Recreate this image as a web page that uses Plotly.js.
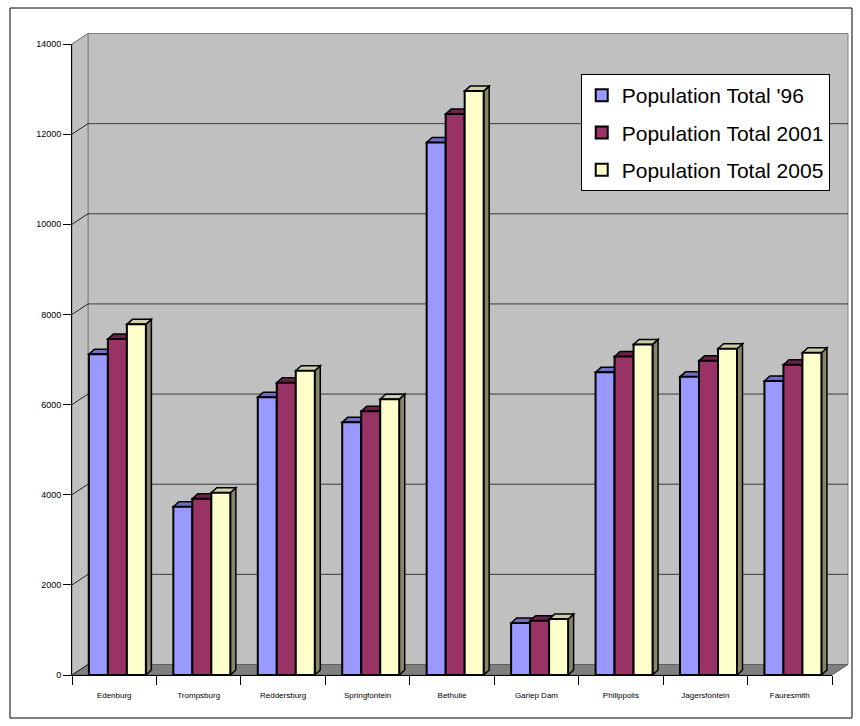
<!DOCTYPE html>
<html>
<head>
<meta charset="utf-8">
<script src="https://cdn.plot.ly/plotly-3.0.1.min.js"></script>
<style>
  html, body { margin: 0; padding: 0; background: #fff; }
  #chart { width: 860px; height: 726px; }
</style>
</head>
<body>
<div id="chart"></div>
<script>
// Town populations, three census points
const towns = ['Edenburg', 'Trompsburg', 'Reddersburg', 'Springfontein', 'Bethulie',
               'Gariep Dam', 'Philippolis', 'Jagersfontein', 'Fauresmith'];
const pop1996 = [7115, 3735, 6165, 5605, 11815, 1155, 6715, 6615, 6525];
const pop2001 = [7455, 3910, 6485, 5850, 12445, 1205, 7065, 6970, 6885];
const pop2005 = [7780, 4045, 6750, 6120, 12955, 1240, 7335, 7240, 7150];
const seriesNames = ["Population Total '96", 'Population Total 2001', 'Population Total 2005'];
const yTicks = [0, 2000, 4000, 6000, 8000, 10000, 12000, 14000];
const yTickText = ['0', '2000', '4000', '6000', '8000', '10000', '12000', '14000'];

// Styling
const frontColors = ['#9999ff', '#993366', '#ffffcc'];
const topColors   = ['#6e6ec8', '#6e2248', '#cfcfa6'];
const sideColors  = ['#5a5aa0', '#5a1a3a', '#86866a'];
const FONT = 'Liberation Sans, Arial, sans-serif';

const W = 860, H = 726;
const M = { l: 72, r: 28, t: 44, b: 51 };
const plotW = W - M.l - M.r, plotH = H - M.t - M.b;
const xMin = -0.5, xMax = towns.length - 0.5;
const yMax = yTicks[yTicks.length - 1];
const ux = plotW / (xMax - xMin), uy = plotH / yMax;     // px per data unit
const dx = p => p / ux, dy = p => p / uy;                // px -> data units
const px = x => (x - xMin) / (xMax - xMin);              // data -> paper
const py = y => y / yMax;

// depth of the walls and of the bars (3-D look)
const WX = dx(16), WY = dy(10.5);
const BX = dx(5.5), BY = dy(5);
const barW = 0.225;
const offsets = [-0.30, -0.075, 0.15];
const series = [pop1996, pop2001, pop2005];
const idx = towns.map((_, i) => i);

const traces = series.map((vals, s) => ({
  type: 'bar',
  name: seriesNames[s],
  legendgroup: 'g' + s,
  x: idx,
  y: vals,
  width: barW,
  offset: offsets[s],
  textposition: 'none',
  marker: { color: frontColors[s], line: { color: '#000', width: 2 } },
  customdata: towns,
  hovertemplate: '%{customdata}: %{y}<extra>' + seriesNames[s] + '</extra>'
}));

const shapes = [];
const P = (pts) => 'M' + pts.map(p => p[0] + ',' + p[1]).join(' L') + ' Z';

// back wall
shapes.push({ type: 'path', xref: 'paper', yref: 'paper', layer: 'below',
  path: P([[px(xMin + WX), py(WY)], [px(xMax + WX), py(WY)], [px(xMax + WX), py(yMax + WY)], [px(xMin + WX), py(yMax + WY)]]),
  fillcolor: '#c0c0c0', line: { color: '#808080', width: 1 } });
// side wall
shapes.push({ type: 'path', xref: 'paper', yref: 'paper', layer: 'below',
  path: P([[px(xMin), py(0)], [px(xMin + WX), py(WY)], [px(xMin + WX), py(yMax + WY)], [px(xMin), py(yMax)]]),
  fillcolor: '#c0c0c0', line: { color: '#808080', width: 1 } });
// floor
shapes.push({ type: 'path', xref: 'paper', yref: 'paper', layer: 'below',
  path: P([[px(xMin), py(0)], [px(xMax), py(0)], [px(xMax + WX), py(WY)], [px(xMin + WX), py(WY)]]),
  fillcolor: '#808080', line: { color: '#606060', width: 1 } });
// gridlines on the back wall and their joins to the value axis
yTicks.forEach(t => {
  if (t > 0 && t < yMax) {
    shapes.push({ type: 'line', xref: 'paper', yref: 'paper', layer: 'below',
      x0: px(xMin + WX), x1: px(xMax + WX), y0: py(t + WY), y1: py(t + WY),
      line: { color: '#3a3a3a', width: 1 } });
  }
  shapes.push({ type: 'line', xref: 'paper', yref: 'paper', layer: 'below',
    x0: px(xMin), x1: px(xMin + WX), y0: py(t), y1: py(t + WY),
    line: { color: t === yMax ? '#808080' : '#222', width: 1 } });
});
// bar side and top faces
series.forEach((vals, s) => {
  vals.forEach((v, i) => {
    const xl = i + offsets[s], xr = xl + barW;
    shapes.push({ type: 'path', xref: 'x', yref: 'y', layer: 'below',
      path: P([[xr, 0], [xr + BX, BY], [xr + BX, v + BY], [xr, v]]),
      fillcolor: sideColors[s], line: { color: '#000', width: 1.5 } });
    shapes.push({ type: 'path', xref: 'x', yref: 'y', layer: 'below',
      path: P([[xl, v], [xr, v], [xr + BX, v + BY], [xl + BX, v + BY]]),
      fillcolor: topColors[s], line: { color: '#000', width: 1.5 } });
  });
});
// outer frame
shapes.push({ type: 'rect', xref: 'paper', yref: 'paper', layer: 'above',
  x0: -62 / plotW, x1: 780 / plotW, y0: -43 / plotH, y1: 667 / plotH,
  line: { color: '#000', width: 1 }, fillcolor: 'rgba(0,0,0,0)' });

const layout = {
  width: W, height: H,
  margin: M,
  paper_bgcolor: '#fff',
  plot_bgcolor: 'rgba(0,0,0,0)',
  font: { family: FONT, color: '#000' },
  barmode: 'group',
  showlegend: true,
  legend: {
    x: 0.997, xanchor: 'right', y: py(yMax - dy(30)), yanchor: 'top',
    bgcolor: '#fff', bordercolor: '#000', borderwidth: 1,
    font: { family: FONT, size: 21, color: '#000' },
    tracegroupgap: 7, traceorder: 'grouped'
  },
  xaxis: {
    range: [xMin, xMax],
    tickmode: 'array', tickvals: idx, ticktext: towns,
    ticks: '', ticklabelstandoff: 12,
    tickfont: { family: FONT, size: 8, color: '#000' },
    showline: true, linecolor: '#000', linewidth: 1,
    showgrid: false, zeroline: false,
    minor: { tickmode: 'array', tickvals: [...idx.map(i => i - 0.5), xMax],
             ticks: 'outside', ticklen: 9, tickcolor: '#000', tickwidth: 1, showgrid: false },
    fixedrange: true
  },
  yaxis: {
    range: [0, yMax],
    tickmode: 'array', tickvals: yTicks, ticktext: yTickText,
    ticks: 'outside', ticklen: 8, tickcolor: '#000',
    tickfont: { family: FONT, size: 9, color: '#000' },
    showline: true, linecolor: '#000', linewidth: 1,
    showgrid: false, zeroline: false,
    fixedrange: true
  },
  shapes: shapes
};

Plotly.newPlot('chart', traces, layout, { displayModeBar: false, staticPlot: true });
</script>
</body>
</html>
